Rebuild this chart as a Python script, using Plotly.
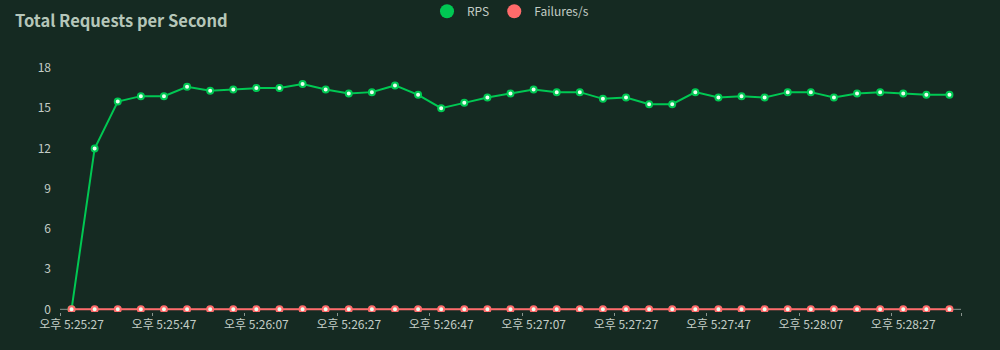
import plotly.graph_objects as go

# Sample times (5 s apart) and per-second rates
times = [
    "오후 5:25:27", "오후 5:25:32", "오후 5:25:37", "오후 5:25:42", "오후 5:25:47",
    "오후 5:25:52", "오후 5:25:57", "오후 5:26:02", "오후 5:26:07", "오후 5:26:12",
    "오후 5:26:17", "오후 5:26:22", "오후 5:26:27", "오후 5:26:32", "오후 5:26:37",
    "오후 5:26:42", "오후 5:26:47", "오후 5:26:52", "오후 5:26:57", "오후 5:27:02",
    "오후 5:27:07", "오후 5:27:12", "오후 5:27:17", "오후 5:27:22", "오후 5:27:27",
    "오후 5:27:32", "오후 5:27:37", "오후 5:27:42", "오후 5:27:47", "오후 5:27:52",
    "오후 5:27:57", "오후 5:28:02", "오후 5:28:07", "오후 5:28:12", "오후 5:28:17",
    "오후 5:28:22", "오후 5:28:27", "오후 5:28:32", "오후 5:28:37",
]
rps = [
    0, 12.0, 15.5, 15.9, 15.9, 16.6, 16.3, 16.4, 16.5, 16.5,
    16.8, 16.4, 16.1, 16.2, 16.7, 16.0, 15.0, 15.4, 15.8, 16.1,
    16.4, 16.2, 16.2, 15.7, 15.8, 15.3, 15.3, 16.2, 15.8, 15.9,
    15.8, 16.2, 16.2, 15.8, 16.1, 16.2, 16.1, 16.0, 16.0,
]
failures = [0] * len(times)
y_ticks = [0, 3, 6, 9, 12, 15, 18]
label_step = 4

BG = "#152a22"
GREEN = "#00c853"
RED = "#ff6b6b"
TEXT = "#c3cdc6"
AXIS = "#8a948e"
FONT = "Noto Sans CJK KR"

idx = list(range(len(times)))
boundaries = [i - 0.5 for i in idx[::label_step]] + [len(times) - 0.5]

fig = go.Figure()


def series(name, values, color):
    fig.add_trace(go.Scatter(
        x=idx, y=values, mode="lines+markers", name=name,
        line=dict(color=color, width=2),
        marker=dict(size=6, color="#eafff0", line=dict(color=color, width=2)),
        showlegend=False, hovertemplate="%{y}<extra>" + name + "</extra>",
    ))
    # legend entry drawn as a filled dot
    fig.add_trace(go.Scatter(
        x=[None], y=[None], mode="markers", name=name,
        marker=dict(size=14, color=color), showlegend=True,
    ))


series("RPS", rps, GREEN)
series("Failures/s", failures, RED)

fig.update_layout(
    width=1000, height=350,
    paper_bgcolor=BG, plot_bgcolor=BG,
    margin=dict(l=60, r=39, t=68, b=38),
    font=dict(family=FONT, color=TEXT, size=12),
    title=dict(text="<b>Total Requests per Second</b>", x=0.015, xanchor="left",
               y=0.94, yanchor="middle",
               font=dict(family=FONT, size=16.5, color="#b5c6b9")),
    legend=dict(orientation="h", x=0.5, xanchor="center", y=0.968, yanchor="middle",
                yref="container", itemwidth=30, itemsizing="trace",
                font=dict(family=FONT, size=12, color=TEXT),
                bgcolor="rgba(0,0,0,0)"),
    showlegend=True,
)

# baseline at y=0, kept under the series
fig.add_shape(type="line", xref="x", yref="y", x0=-0.5, x1=len(times) - 0.5,
              y0=0, y1=0, line=dict(color=AXIS, width=1), layer="below")

# x ticks sit on category boundaries; labels sit under every 4th sample
fig.update_xaxes(
    range=[-0.5, len(times) - 0.5],
    tickmode="array", tickvals=idx[::label_step], ticktext=times[::label_step],
    ticks="", showgrid=False, zeroline=False, showline=False,
    ticklabelstandoff=4,
    minor=dict(tickmode="array", tickvals=boundaries, ticks="outside",
               ticklen=3, tickcolor=AXIS, showgrid=False),
    tickfont=dict(family=FONT, size=12, color=TEXT),
    fixedrange=True,
)
# range pads a little below 0 so the zero series is not clipped
fig.update_yaxes(
    range=[-0.2, 18], tickmode="array", tickvals=y_ticks,
    showgrid=False, zeroline=False, showline=False, ticks="",
    ticklabelstandoff=8,
    tickfont=dict(family=FONT, size=12, color=TEXT),
    fixedrange=True,
)

fig.write_html("out.html")
